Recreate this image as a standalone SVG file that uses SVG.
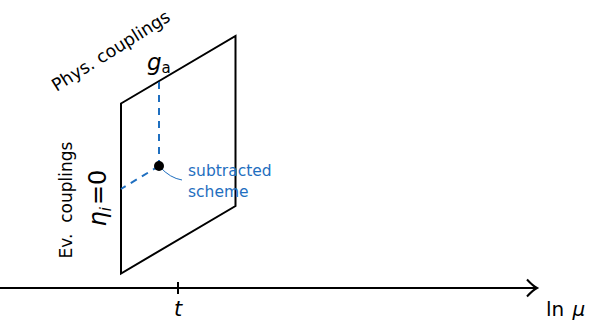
<svg xmlns="http://www.w3.org/2000/svg" width="590" height="322" viewBox="0 0 590 322">
<style>
.t{font-family:"DejaVu Sans","Open Sans",sans-serif;fill:#000}
.b{fill:#1f6fc0}
.blk{stroke:#000;stroke-width:2;fill:none}
.dash{stroke:#1f6fc0;stroke-width:2;stroke-dasharray:7,6;fill:none}
</style>
<rect width="590" height="322" fill="#fff"/>
<g id="plane">
<path class="blk" d="M121,103.5 L235.5,36 L235.5,206 L121,273.5 Z"/>
</g>
<g id="connectors">
<path class="blk" d="M0,288 L535,288"/>
<path class="blk" d="M527,279.5 Q533,286 537,288 Q533,290 527,296.5"/>
<path class="blk" d="M178,282 L178,294"/>
<path class="dash" d="M159,82 L159,166"/>
<path class="dash" d="M159,166 L121,189"/>
<path d="M160,167 Q170,178 182,180" stroke="#1f6fc0" stroke-width="1" fill="none"/>
</g>
<g id="scheme">
<circle cx="159" cy="166" r="5" fill="#000"/>
<text class="t b" x="188" y="176" font-size="15.5">subtracted</text>
<text class="t b" x="188" y="197" font-size="15.5">scheme</text>
</g>
<g id="labels">
<text class="t" font-size="17.5" transform="translate(114,56) rotate(-32)" text-anchor="middle">Phys. couplings</text>
<text class="t" font-size="23" x="147" y="70" font-style="italic">g<tspan font-size="15" font-style="normal" dy="3">a</tspan></text>
<text class="t" font-size="17" transform="translate(72,200) rotate(-90)" text-anchor="middle" xml:space="preserve">Ev.  couplings</text>
<text class="t" font-size="24" transform="translate(106,198) rotate(-90)" text-anchor="middle"><tspan font-style="italic">η</tspan><tspan font-size="15" font-style="italic" dy="5">i</tspan><tspan dy="-5" dx="2">=0</tspan></text>
<text class="t" font-size="21" x="178" y="316" text-anchor="middle" font-style="italic">t</text>
<text class="t" font-size="20" x="546" y="316">ln <tspan font-style="italic" dx="2">μ</tspan></text>
</g>
</svg>
